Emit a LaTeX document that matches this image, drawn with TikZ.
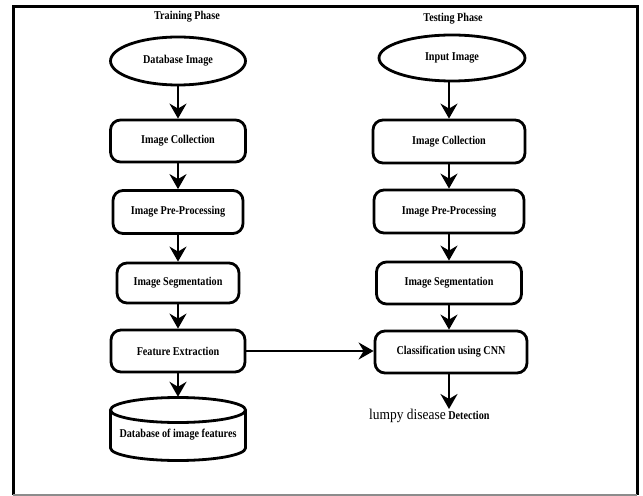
\documentclass[tikz,border=0pt]{standalone}
\usepackage{fontspec}
\setmainfont{Liberation Serif}
\newfontfamily\condfont{Liberation Serif}[FakeStretch=0.85]
\newfontfamily\lumpyfont{Liberation Serif}[FakeStretch=0.9]
\usetikzlibrary{arrows.meta,shapes.geometric}
\begin{document}
\begin{tikzpicture}[x=1bp,y=-1bp,
  every node/.style={font=\condfont\bfseries\fontsize{12}{14}\selectfont},
  procbox/.style={draw, line width=2.8bp, rounded corners=10bp, inner sep=0pt},
  startell/.style={draw, ellipse, line width=2.8bp, inner sep=0pt},
  arr/.style={line width=2.8bp, -{Stealth[length=15bp,width=17bp,inset=5bp]}},
  title/.style={inner sep=0pt}
]
\useasboundingbox (0,0) rectangle (643,496);
% frame
\draw[line width=3bp] (13,495) -- (13,7) -- (637,7) -- (637,495);
\draw[line width=1.5bp, black!45] (13,495) -- (637,495);

% titles
\node[title] (t1) at (187,17) {Training Phase};
\node[title] (t2) at (453,19) {Testing Phase};

% training column
\node[startell, minimum width=135bp, minimum height=48bp] (db) at (178,61) {Database Image};
\node[procbox, minimum width=135bp, minimum height=42bp] (ic1) at (178,141) {Image Collection};
\node[procbox, minimum width=130bp, minimum height=43bp] (ipp1) at (178,212) {Image Pre-Processing};
\node[procbox, minimum width=122bp, minimum height=40bp] (is1) at (178,283) {Image Segmentation};
\node[procbox, minimum width=134bp, minimum height=42bp] (fe) at (178,351) {Feature Extraction};
% cylinder
\node[inner sep=0pt, minimum width=135bp, minimum height=63bp] (cyl) at (178,428.5) {};
\draw[line width=2.8bp] (178,410) ellipse[x radius=67.5, y radius=12.5];
\draw[line width=2.8bp] (110.5,410) -- (110.5,448)
   arc[start angle=180, end angle=0, x radius=67.5, y radius=12.5] -- (245.5,410);
\node[inner sep=0pt] (cyltext) at (178,435) {Database of image features};

% testing column
\node[startell, minimum width=146bp, minimum height=46bp] (in) at (452,58) {Input Image};
\node[procbox, minimum width=152bp, minimum height=43bp] (ic2) at (449,141.5) {Image Collection};
\node[procbox, minimum width=150bp, minimum height=43bp] (ipp2) at (449,211.5) {Image Pre-Processing};
\node[procbox, minimum width=145bp, minimum height=42bp] (is2) at (449,283) {Image Segmentation};
\node[procbox, minimum width=152bp, minimum height=42bp] (cnn) at (451,352) {Classification using CNN};
\node[inner sep=0pt, anchor=north west] (det) at (369,409)
  {{\lumpyfont\mdseries\fontsize{15}{16}\selectfont lumpy disease} Detection};

% connectors
\draw[arr] (db.south -| ic1.north) -- (ic1.north);
\draw[arr] (ic1) -- (ipp1);
\draw[arr] (ipp1) -- (is1);
\draw[arr] (is1) -- (fe);
\draw[arr] (fe) -- (cyl.north);

\draw[arr] (in.south -| ic2.north) -- (ic2.north);
\draw[arr] (ic2) -- (ipp2);
\draw[arr] (ipp2) -- (is2);
\draw[arr] (is2.south) -- (is2.south |- cnn.north);
\draw[arr] (cnn.south -| is2.south) -- (is2.south |- det.north);

\draw[arr] (fe.east) -- (fe.east -| cnn.west);
\end{tikzpicture}
\end{document}
